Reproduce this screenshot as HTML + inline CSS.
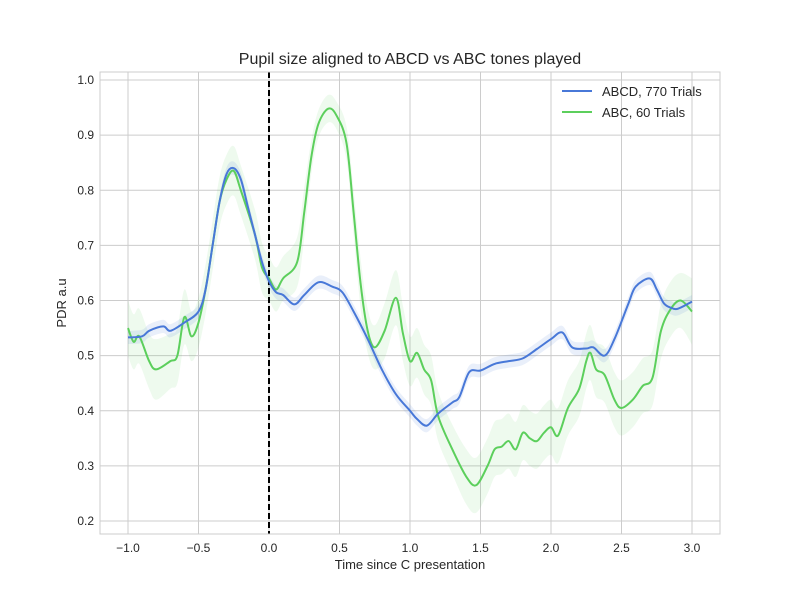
<!DOCTYPE html>
<html><head><meta charset="utf-8"><style>
body{margin:0;background:#fff;font-family:"Liberation Sans",sans-serif}
</style></head><body>
<svg id="chart" width="800" height="600" xmlns="http://www.w3.org/2000/svg" font-family="Liberation Sans, sans-serif">
<rect width="800" height="600" fill="#fff"/>
<text x="410" y="64" text-anchor="middle" font-size="16" fill="#262626">Pupil size aligned to ABCD vs ABC tones played</text>
<g id="grid"></g>
<g id="bands"></g>
<g id="lines"></g>
<rect x="100" y="72" width="620" height="462" fill="none" stroke="#ccc" stroke-width="1"/>
<g id="ticks"></g>
<text x="410" y="569" text-anchor="middle" font-size="13" fill="#262626">Time since C presentation</text>
<text transform="translate(66,303) rotate(-90)" text-anchor="middle" font-size="13" fill="#262626">PDR a.u</text>
<g>
<line x1="562" y1="91" x2="592" y2="91" stroke="#4878d8" stroke-width="2"/>
<text x="602" y="96" font-size="13" fill="#262626">ABCD, 770 Trials</text>
<line x1="562" y1="112" x2="592" y2="112" stroke="#5ccf5c" stroke-width="2"/>
<text x="602" y="117" font-size="13" fill="#262626">ABC, 60 Trials</text>
</g>
</svg>
<script>
const xTicks=[-1.0,-0.5,0.0,0.5,1.0,1.5,2.0,2.5,3.0];
const yTicks=[0.2,0.3,0.4,0.5,0.6,0.7,0.8,0.9,1.0];
const blueT=[-1.0,-0.9,-0.85,-0.75,-0.7,-0.6,-0.5,-0.45,-0.4,-0.35,-0.3,-0.25,-0.2,-0.15,-0.1,-0.05,0,0.05,0.1,0.18,0.25,0.35,0.45,0.52,0.6,0.7,0.8,0.9,1.0,1.05,1.12,1.2,1.3,1.35,1.42,1.5,1.6,1.7,1.8,1.9,2.0,2.08,2.15,2.25,2.3,2.38,2.45,2.55,2.6,2.7,2.75,2.8,2.85,2.9,3.0];
const blueV=[0.533,0.535,0.545,0.553,0.545,0.56,0.58,0.62,0.70,0.78,0.83,0.84,0.82,0.77,0.72,0.67,0.635,0.615,0.61,0.593,0.61,0.633,0.625,0.615,0.58,0.53,0.475,0.43,0.40,0.385,0.373,0.395,0.415,0.425,0.47,0.473,0.485,0.49,0.495,0.512,0.53,0.542,0.515,0.513,0.515,0.50,0.53,0.595,0.625,0.64,0.62,0.595,0.587,0.585,0.598];
const blueErr=0.012;
const greenT=[-1.0,-0.96,-0.92,-0.85,-0.8,-0.7,-0.65,-0.6,-0.55,-0.5,-0.45,-0.4,-0.35,-0.3,-0.25,-0.2,-0.1,-0.05,0.0,0.05,0.1,0.2,0.25,0.3,0.35,0.42,0.48,0.55,0.6,0.65,0.7,0.75,0.82,0.9,0.95,1.0,1.05,1.1,1.15,1.2,1.3,1.4,1.47,1.55,1.6,1.65,1.7,1.75,1.8,1.85,1.9,1.95,2.0,2.05,2.12,2.2,2.25,2.28,2.32,2.38,2.45,2.5,2.58,2.65,2.72,2.78,2.85,2.92,3.0];
const greenV=[0.55,0.525,0.535,0.49,0.475,0.49,0.50,0.57,0.535,0.56,0.62,0.70,0.78,0.82,0.835,0.80,0.72,0.66,0.64,0.62,0.64,0.67,0.76,0.86,0.92,0.948,0.935,0.885,0.76,0.63,0.545,0.515,0.545,0.605,0.54,0.49,0.505,0.475,0.455,0.39,0.33,0.28,0.265,0.30,0.33,0.335,0.345,0.33,0.36,0.35,0.345,0.36,0.37,0.355,0.405,0.44,0.49,0.505,0.475,0.465,0.42,0.405,0.42,0.445,0.46,0.545,0.585,0.60,0.58];
const greenErr=[0.05,0.05,0.05,0.05,0.055,0.05,0.05,0.05,0.045,0.045,0.045,0.045,0.045,0.045,0.045,0.045,0.045,0.045,0.04,0.04,0.04,0.045,0.045,0.03,0.025,0.025,0.025,0.03,0.04,0.045,0.04,0.04,0.05,0.05,0.05,0.045,0.045,0.045,0.045,0.045,0.045,0.05,0.05,0.05,0.05,0.05,0.05,0.05,0.05,0.05,0.05,0.05,0.05,0.05,0.05,0.05,0.05,0.05,0.05,0.05,0.05,0.05,0.05,0.05,0.05,0.05,0.05,0.05,0.06];
const NS='http://www.w3.org/2000/svg';
function sx(t){return 269+141*t;}
function sy(v){return 521-(v-0.2)*551.25;}
function mk(tag,attrs,parent){const e=document.createElementNS(NS,tag);for(const k in attrs)e.setAttribute(k,attrs[k]);parent.appendChild(e);return e;}
function smooth(pts){let d='M'+pts[0][0].toFixed(2)+','+pts[0][1].toFixed(2);
 for(let i=0;i<pts.length-1;i++){const p0=pts[Math.max(0,i-1)],p1=pts[i],p2=pts[i+1],p3=pts[Math.min(pts.length-1,i+2)];
  const c1=[p1[0]+(p2[0]-p0[0])/6,p1[1]+(p2[1]-p0[1])/6],c2=[p2[0]-(p3[0]-p1[0])/6,p2[1]-(p3[1]-p1[1])/6];
  d+='C'+c1[0].toFixed(2)+','+c1[1].toFixed(2)+' '+c2[0].toFixed(2)+','+c2[1].toFixed(2)+' '+p2[0].toFixed(2)+','+p2[1].toFixed(2);}
 return d;}
const grid=document.getElementById('grid'),ticks=document.getElementById('ticks');
xTicks.forEach(t=>{const l=mk('line',{x1:sx(t),x2:sx(t),y1:72,y2:534,stroke:'#ccc','stroke-width':1},grid);


const tx=mk('text',{x:sx(t),y:552,'text-anchor':'middle','font-size':12,fill:'#262626'},ticks);
tx.textContent=(t<0?'\u22121.0'.replace('1.0',Math.abs(t).toFixed(1)):t.toFixed(1));

});
yTicks.forEach(v=>{const l=mk('line',{x1:100,x2:720,y1:sy(v),y2:sy(v),stroke:'#ccc','stroke-width':1},grid);


const tx=mk('text',{x:94,y:sy(v)+4,'text-anchor':'end','font-size':12,fill:'#262626'},ticks);
tx.textContent=v.toFixed(1);

});
function band(T,V,E,color){const up=T.map((t,i)=>[sx(t),sy(V[i]+(Array.isArray(E)?E[i]:E))]);
 const lo=T.map((t,i)=>[sx(t),sy(V[i]-(Array.isArray(E)?E[i]:E))]).reverse();
 const d=smooth(up)+smooth(lo).replace('M','L')+'Z';
 return mk('path',{d:d,fill:color,stroke:'none'},document.getElementById('bands'));}
const gb=band(greenT,greenV,greenErr,'rgba(92,207,92,0.10)');


const bb=band(blueT,blueV,blueErr,'rgba(72,120,216,0.12)');


const lines=document.getElementById('lines');
const dl=mk('line',{x1:sx(0),x2:sx(0),y1:72,y2:534,stroke:'#000','stroke-width':2,'stroke-dasharray':'6,3'},lines);


const gl=mk('path',{d:smooth(greenT.map((t,i)=>[sx(t),sy(greenV[i])])),fill:'none',stroke:'#5ccf5c','stroke-width':2},lines);


const bl=mk('path',{d:smooth(blueT.map((t,i)=>[sx(t),sy(blueV[i])])),fill:'none',stroke:'#4878d8','stroke-width':2},lines);


</script>
</body></html>
